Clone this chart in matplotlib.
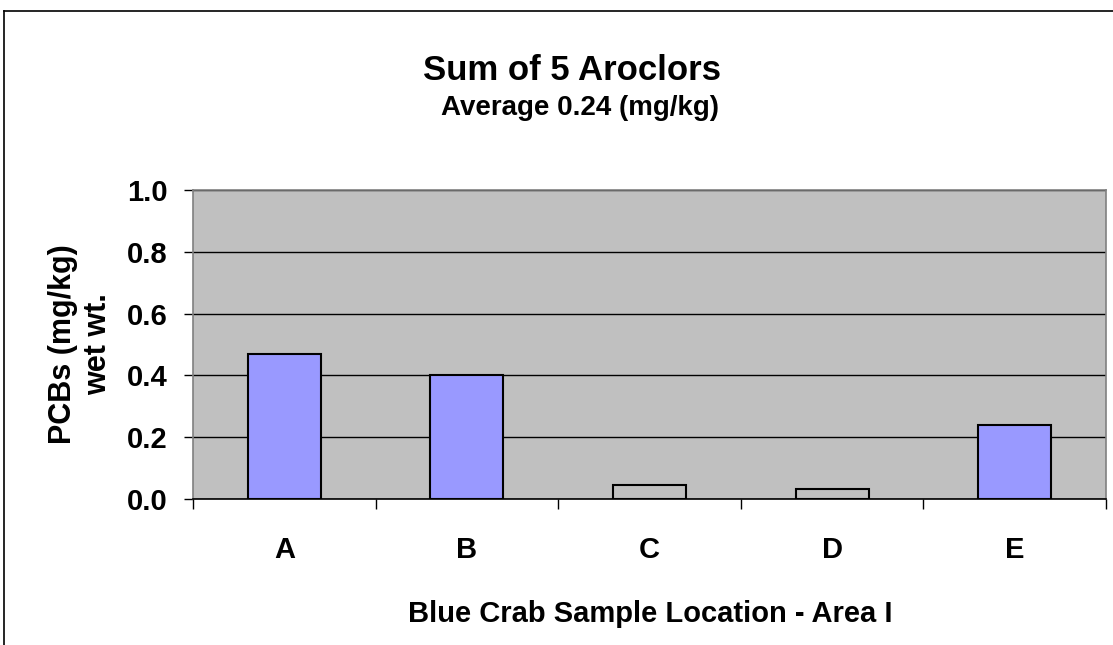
import matplotlib as mpl
mpl.use('Agg')
import matplotlib.pyplot as plt
from matplotlib.lines import Line2D
import numpy as np

mpl.rcParams.update({
    "font.family": ["Liberation Sans", "DejaVu Sans"],
    "font.weight": "bold",
})

locations = ["A", "B", "C", "D", "E"]
pcbs = [0.47, 0.40, 0.045, 0.032, 0.24]
bar_colors = ["#9999FF", "#9999FF", "#C0C0C0", "#C0C0C0", "#9999FF"]
yticks = [0.0, 0.2, 0.4, 0.6, 0.8, 1.0]

fig = plt.figure(figsize=(11.13, 6.45), dpi=100)
ax = fig.add_axes([0.1734, 0.2264, 0.8203, 0.479])
ax.set_facecolor("#C0C0C0")

x = np.arange(len(locations))
ax.bar(x, pcbs, width=0.4, color=bar_colors, edgecolor="black", linewidth=1.5, zorder=3)

ax.set_xlim(-0.5, len(locations) - 0.5)
ax.set_ylim(0, 1.0)
ax.set_yticks(yticks)
ax.set_yticklabels(["{:.1f}".format(v) for v in yticks], fontsize=21, fontweight="bold")
ax.yaxis.grid(True, color="black", linewidth=1, zorder=1)
ax.set_axisbelow(True)

ax.set_xticks(x)
ax.set_xticklabels(locations, fontsize=21, fontweight="bold")
ax.set_xticks(np.arange(-0.5, len(locations)), minor=True)
ax.tick_params(axis="x", which="major", length=0, pad=27)
ax.tick_params(axis="x", which="minor", length=7, width=1, direction="out", color="black")
ax.tick_params(axis="y", length=6.5, width=1, direction="out", pad=12, color="black")

for side in ["left", "top", "right"]:
    ax.spines[side].set_color("#808080")
    ax.spines[side].set_linewidth(1.2)
ax.spines["bottom"].set_color("black")
ax.spines["bottom"].set_linewidth(1.2)

ax.set_ylabel("PCBs (mg/kg)\nwet wt.", fontsize=22, fontweight="bold", labelpad=10, linespacing=1.2)

fig.text(0.514, 0.876, "Sum of 5 Aroclors", ha="center", va="baseline", fontsize=25, fontweight="bold")
fig.text(0.521, 0.822, "Average 0.24 (mg/kg)", ha="center", va="baseline", fontsize=20, fontweight="bold")
fig.text(0.584, 0.0357, "Blue Crab Sample Location - Area I", ha="center", va="baseline",
         fontsize=21, fontweight="bold")

# outer chart border (left and top edges visible)
fig.add_artist(Line2D([0.0036, 0.0036], [0, 0.983], color="black", linewidth=1.2, transform=fig.transFigure))
fig.add_artist(Line2D([0.0036, 1.0], [0.983, 0.983], color="black", linewidth=1.2, transform=fig.transFigure))

fig.savefig("out.png", dpi=100)
